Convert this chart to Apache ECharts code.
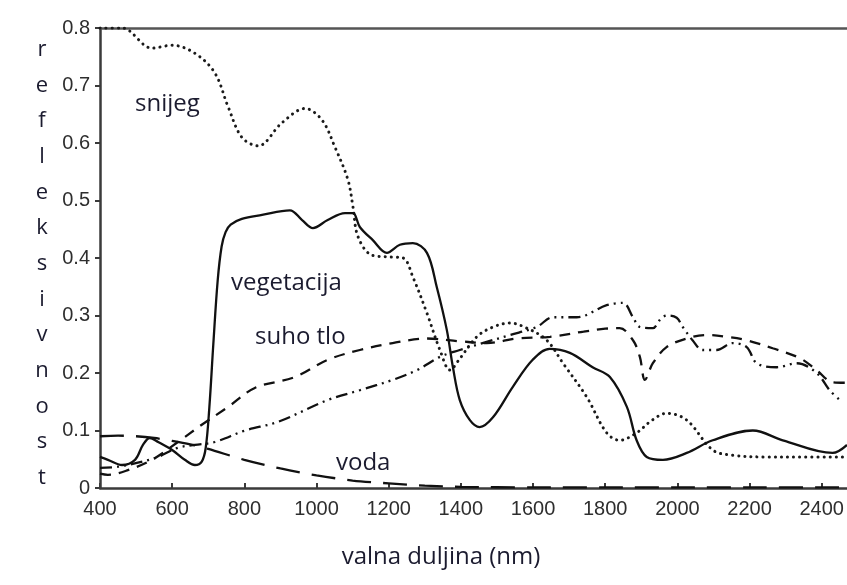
<!DOCTYPE html>
<html>
<head>
<meta charset="utf-8">
<script src="https://cdn.jsdelivr.net/npm/echarts@6/dist/echarts.min.js"></script>
<style>
html,body{margin:0;padding:0;background:#fff;}
#chart{width:847px;height:585px;}
</style>
</head>
<body>
<div id="chart"></div>
<script>
// wavelength (nm), reflectance pairs
const snijegX = [400,461,544,600,663,718,755,793,838,904,968,1015,1051,1087,1101,1115,1153,1200,1240,1267,1306,1342,1370,1397,1444,1489,1536,1583,1638,1683,1749,1804,1840,1887,1930,1970,2026,2098,2153,2247,2350,2470];
const snijegY = [0.80,0.80,0.765,0.77,0.756,0.722,0.663,0.61,0.595,0.635,0.66,0.64,0.593,0.536,0.489,0.437,0.405,0.402,0.40,0.367,0.304,0.24,0.205,0.225,0.263,0.28,0.287,0.278,0.257,0.217,0.158,0.096,0.083,0.096,0.118,0.13,0.118,0.066,0.057,0.054,0.054,0.054];

const vegetacijaX = [400,422,461,497,519,538,561,600,635,663,682,693,703,714,726,737,748,762,793,849,926,960,990,1031,1079,1101,1120,1156,1195,1231,1267,1306,1333,1361,1378,1397,1425,1452,1489,1544,1599,1646,1702,1765,1813,1860,1887,1915,1960,2026,2098,2209,2292,2430,2470];
const vegetacijaY = [0.054,0.049,0.04,0.049,0.075,0.087,0.08,0.066,0.049,0.04,0.046,0.07,0.14,0.25,0.36,0.42,0.445,0.458,0.468,0.475,0.483,0.466,0.452,0.466,0.478,0.478,0.454,0.431,0.409,0.423,0.426,0.409,0.35,0.275,0.21,0.153,0.118,0.106,0.123,0.176,0.223,0.242,0.235,0.21,0.193,0.141,0.083,0.054,0.049,0.061,0.083,0.10,0.083,0.061,0.075];

const suhoTloX = [400,422,477,544,616,682,755,829,940,1031,1120,1211,1306,1400,1472,1555,1647,1740,1800,1840,1877,1896,1910,1932,1970,2026,2081,2137,2192,2264,2339,2386,2430,2470];
const suhoTloY = [0.025,0.023,0.031,0.049,0.08,0.11,0.141,0.174,0.193,0.223,0.24,0.252,0.26,0.255,0.252,0.26,0.263,0.272,0.277,0.278,0.257,0.228,0.188,0.217,0.245,0.26,0.266,0.263,0.257,0.243,0.226,0.205,0.184,0.183];

const ostaloX = [400,450,552,616,663,718,802,893,1031,1120,1211,1278,1342,1397,1460,1536,1610,1655,1721,1804,1849,1877,1896,1932,1951,1970,1998,2015,2042,2070,2109,2153,2192,2220,2275,2331,2386,2422,2450];
const ostaloY = [0.035,0.037,0.052,0.07,0.075,0.08,0.10,0.115,0.153,0.17,0.188,0.205,0.228,0.24,0.252,0.266,0.28,0.297,0.297,0.318,0.322,0.297,0.28,0.278,0.292,0.30,0.296,0.28,0.257,0.24,0.24,0.252,0.245,0.217,0.21,0.217,0.2,0.17,0.153];

const vodaX = [400,450,500,550,600,650,700,800,900,1000,1100,1200,1300,1400,1600,1800,2000,2200,2470];
const vodaY = [0.09,0.091,0.09,0.087,0.082,0.076,0.068,0.049,0.034,0.022,0.013,0.008,0.004,0.002,0.001,0.001,0.001,0.001,0.001];

const yTicks = [0,0.1,0.2,0.3,0.4,0.5,0.6,0.7,0.8];
const yLetters = ['r','e','f','l','e','k','s','i','v','n','o','s','t'];
const xName = 'valna duljina (nm)';
const curveLabels = [
  {text:'snijeg', x:135, y:104},
  {text:'vegetacija', x:231, y:283},
  {text:'suho tlo', x:255, y:337},
  {text:'voda', x:336, y:463}
];

function pairs(xs, ys){ return xs.map((x,i)=>[x, ys[i]]); }

const chart = echarts.init(document.getElementById('chart'));
const txtColor = '#1b1b2f';
const txtFont = '"Open Sans", "Noto Sans", sans-serif';
const tickFont = '"Liberation Sans", Arial, sans-serif';
const tickColor = '#2e2e2e';

const lineBase = {type:'line', showSymbol:false, symbol:'none', smooth:0.35, animation:false, z:3};

chart.setOption({
  backgroundColor:'#ffffff',
  animation:false,
  grid:{left:100, right:0, top:28, bottom:97, containLabel:false},
  xAxis:[{
    type:'value', min:400, max:2470, interval:200,
    axisLine:{show:true, lineStyle:{color:'#3a3a3a', width:2.5}},
    axisTick:{show:true, inside:true, length:5, lineStyle:{color:'#3a3a3a', width:2}},
    axisLabel:{show:true, showMaxLabel:false, margin:11, color:tickColor, fontSize:20, fontFamily:tickFont,
      formatter: v => String(Math.round(v))},
    splitLine:{show:false}
  },{
    type:'value', position:'top', min:400, max:2470,
    axisLine:{show:true, lineStyle:{color:'#555', width:2.5}},
    axisTick:{show:false}, axisLabel:{show:false}, splitLine:{show:false}
  }],
  yAxis:{
    type:'value', min:0, max:0.8, interval:0.1,
    axisLine:{show:true, lineStyle:{color:'#3a3a3a', width:2.5}},
    axisTick:{show:true, inside:false, length:5, lineStyle:{color:'#3a3a3a', width:2}},
    axisLabel:{margin:10, color:tickColor, fontSize:20, fontFamily:tickFont,
      formatter: v => { const t = yTicks.find(k => Math.abs(k-v)<1e-9); return t===0 ? '0' : String(t); }},
    splitLine:{show:false}
  },
  series:[
    Object.assign({}, lineBase, {name:'snijeg', data:pairs(snijegX,snijegY),
      lineStyle:{color:'#1a1a1a', width:3, type:[0.1,6], cap:'round'}}),
    Object.assign({}, lineBase, {name:'vegetacija', data:pairs(vegetacijaX,vegetacijaY),
      lineStyle:{color:'#111', width:2.3, type:'solid'}}),
    Object.assign({}, lineBase, {name:'suho tlo', data:pairs(suhoTloX,suhoTloY),
      lineStyle:{color:'#111', width:2.3, type:[11,8]}}),
    Object.assign({}, lineBase, {name:'ostalo', data:pairs(ostaloX,ostaloY),
      lineStyle:{color:'#111', width:2.3, type:[12,5,2,5,2,5]}}),
    Object.assign({}, lineBase, {name:'voda', data:pairs(vodaX,vodaY), smooth:0.3,
      lineStyle:{color:'#111', width:2.3, type:[24,12]}})
  ],
  graphic:[
    {type:'text', x:42, y:32, style:{text:yLetters.join('\n'), fill:txtColor, font:'22px ' + txtFont, lineHeight:35.67, align:'center'}},
    {type:'text', x:441, y:557, style:{text:xName, fill:txtColor, font:'24px ' + txtFont, align:'center', verticalAlign:'middle'}}
  ].concat(curveLabels.map(l => ({type:'text', x:l.x, y:l.y, style:{text:l.text, fill:txtColor, font:'24px ' + txtFont, verticalAlign:'middle'}})))
});
</script>
</body>
</html>
